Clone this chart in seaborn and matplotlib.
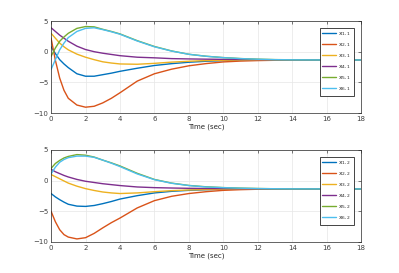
import pandas as pd
import matplotlib
matplotlib.use("Agg")
import matplotlib.pyplot as plt
import seaborn as sns

# time samples
time_s = [0, 0.25, 0.5, 0.75, 1, 1.5, 2, 2.5, 3, 3.5, 4, 5, 6, 7, 8, 9, 10, 11, 12, 13, 14, 16, 18]

# upper panel: x_{i,1}
x11 = [0.8, -0.3, -1.3, -2.0, -2.6, -3.6, -4.0, -4.0, -3.75, -3.5, -3.2, -2.7, -2.25, -1.95, -1.72, -1.56, -1.47, -1.4, -1.37, -1.35, -1.35, -1.35, -1.35]
x21 = [2.2, -1.4, -4.3, -6.3, -7.6, -8.7, -9.05, -8.9, -8.35, -7.6, -6.7, -4.8, -3.6, -2.85, -2.3, -1.94, -1.67, -1.53, -1.45, -1.4, -1.37, -1.35, -1.35]
x31 = [3.0, 2.2, 1.4, 0.8, 0.3, -0.4, -0.9, -1.3, -1.65, -1.85, -2.0, -2.05, -1.9, -1.7, -1.56, -1.45, -1.4, -1.37, -1.35, -1.35, -1.35, -1.35, -1.35]
x41 = [3.9, 3.3, 2.7, 2.2, 1.7, 0.9, 0.35, 0.0, -0.25, -0.45, -0.65, -0.9, -1.0, -1.13, -1.18, -1.22, -1.25, -1.28, -1.3, -1.32, -1.33, -1.35, -1.35]
x51 = [-0.75, 0.6, 1.7, 2.4, 3.0, 3.8, 4.1, 4.05, 3.65, 3.3, 2.9, 1.8, 0.85, 0.12, -0.42, -0.74, -0.96, -1.12, -1.22, -1.29, -1.32, -1.35, -1.35]
x61 = [-2.9, -1.3, 0.3, 1.4, 2.3, 3.3, 3.8, 3.9, 3.6, 3.25, 2.85, 1.75, 0.8, 0.1, -0.43, -0.75, -0.97, -1.13, -1.23, -1.3, -1.33, -1.35, -1.35]

# lower panel: x_{i,2}
x12 = [-2.1, -2.65, -3.1, -3.5, -3.85, -4.15, -4.2, -4.05, -3.75, -3.4, -3.0, -2.45, -2.0, -1.74, -1.58, -1.48, -1.42, -1.38, -1.36, -1.35, -1.35, -1.35, -1.35]
x22 = [-5.0, -6.7, -8.0, -8.8, -9.2, -9.5, -9.3, -8.6, -7.7, -6.85, -6.1, -4.45, -3.26, -2.55, -2.1, -1.8, -1.58, -1.47, -1.4, -1.37, -1.35, -1.35, -1.35]
x32 = [1.0, 0.65, 0.3, -0.05, -0.4, -0.9, -1.3, -1.6, -1.85, -2.0, -2.1, -2.0, -1.8, -1.63, -1.52, -1.45, -1.4, -1.37, -1.35, -1.35, -1.35, -1.35, -1.35]
x42 = [1.85, 1.45, 1.15, 0.85, 0.6, 0.2, -0.1, -0.3, -0.5, -0.65, -0.8, -1.03, -1.14, -1.2, -1.25, -1.28, -1.3, -1.32, -1.33, -1.34, -1.35, -1.35, -1.35]
x52 = [2.0, 2.8, 3.3, 3.7, 3.95, 4.25, 4.15, 3.85, 3.35, 2.9, 2.4, 1.2, 0.2, -0.4, -0.78, -1.0, -1.13, -1.22, -1.28, -1.32, -1.34, -1.35, -1.35]
x62 = [1.1, 2.2, 3.0, 3.45, 3.75, 4.0, 4.0, 3.8, 3.35, 2.85, 2.3, 1.1, 0.16, -0.43, -0.8, -1.03, -1.14, -1.23, -1.29, -1.32, -1.34, -1.35, -1.35]

top_series = [x11, x21, x31, x41, x51, x61]
bottom_series = [x12, x22, x32, x42, x52, x62]
top_labels = [f"$\\mathregular{{x_{{{i},1}}}}$" for i in range(1, 7)]
bottom_labels = [f"$\\mathregular{{x_{{{i},2}}}}$" for i in range(1, 7)]

matlab_colors = ["#0072BD", "#D95319", "#EDB120", "#7E2F8E", "#77AC30", "#4DBEEE"]


def to_long(series, labels):
    frames = []
    for vals, lab in zip(series, labels):
        frames.append(pd.DataFrame({"t": time_s, "x": vals, "state": lab}))
    return pd.concat(frames, ignore_index=True)


sns.set_theme(style="whitegrid")
plt.rcParams["font.family"] = ["DejaVu Sans"]

fig = plt.figure(figsize=(3.99, 2.73), dpi=100)
ax_top = fig.add_axes([0.128, 0.586, 0.777, 0.337])
ax_bot = fig.add_axes([0.128, 0.1136, 0.777, 0.337])

for ax, series, labels in [
    (ax_top, top_series, top_labels),
    (ax_bot, bottom_series, bottom_labels),
]:
    df = to_long(series, labels)
    sns.lineplot(
        data=df,
        x="t",
        y="x",
        hue="state",
        palette=matlab_colors,
        linewidth=1.0,
        ax=ax,
    )
    ax.set_xlim(0, 18)
    ax.set_ylim(-10, 5)
    ax.set_xticks(range(0, 19, 2))
    ax.set_yticks([-10, -5, 0, 5])
    ax.set_xlabel("Time (sec)", fontsize=5, color="#262626", labelpad=1)
    ax.set_ylabel("")
    ax.grid(True, color="#e6e6e6", linewidth=0.5)
    for sp in ax.spines.values():
        sp.set_visible(True)
        sp.set_color("#262626")
        sp.set_linewidth(0.5)
    ax.tick_params(
        axis="both", direction="in", length=2, width=0.5, labelsize=5,
        colors="#404040", top=True, right=True, pad=2,
    )
    leg = ax.legend(
        loc="upper right",
        bbox_to_anchor=(0.977, 0.924),
        fontsize=4.5,
        frameon=True,
        fancybox=False,
        edgecolor="#262626",
        framealpha=1,
        handlelength=2.2,
        handletextpad=0.3,
        labelspacing=0.6,
        borderpad=0.45,
        borderaxespad=0,
    )
    leg.get_frame().set_linewidth(0.6)

fig.savefig("out.png", dpi=100)
